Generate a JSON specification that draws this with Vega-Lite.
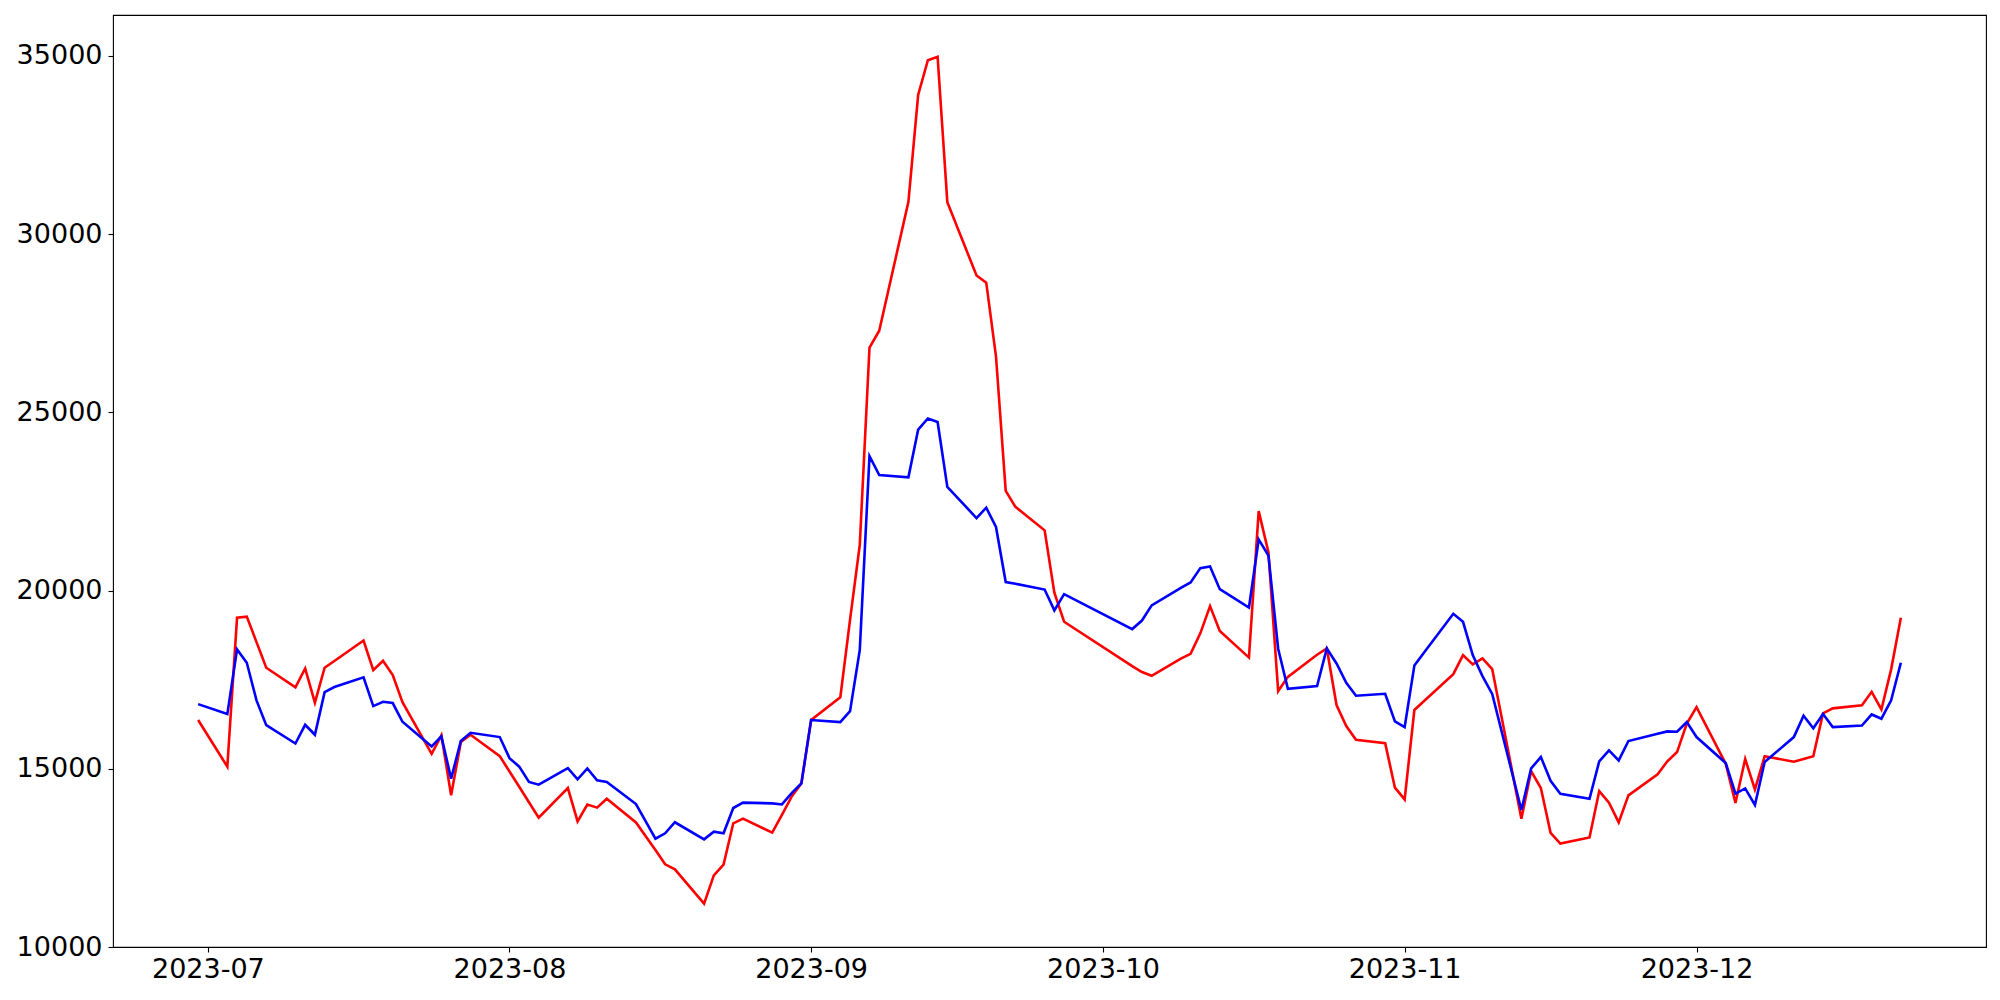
{
  "$schema": "https://vega.github.io/schema/vega-lite/v6.json",
  "width": 1873,
  "height": 932,
  "autosize": {"type": "none"},
  "padding": {"left": 113, "top": 15, "right": 14, "bottom": 53},
  "background": "#ffffff",
  "config": {
    "view": {"stroke": "#000000", "strokeWidth": 1.1},
    "font": "DejaVu Sans",
    "axis": {
      "grid": false,
      "domain": false,
      "ticks": true,
      "tickColor": "#000000",
      "tickWidth": 1.1,
      "tickSize": 5,
      "labelFont": "DejaVu Sans",
      "labelFontSize": 27,
      "labelColor": "#000000",
      "labelFlush": false,
      "labelOverlap": false,
      "title": null
    }
  },
  "datasets": {
    "series": [
      {"date": "2023-06-30", "s": "red", "v": 16370},
      {"date": "2023-07-03", "s": "red", "v": 15060},
      {"date": "2023-07-04", "s": "red", "v": 19240},
      {"date": "2023-07-05", "s": "red", "v": 19270},
      {"date": "2023-07-06", "s": "red", "v": 18555},
      {"date": "2023-07-07", "s": "red", "v": 17835},
      {"date": "2023-07-10", "s": "red", "v": 17285},
      {"date": "2023-07-11", "s": "red", "v": 17815},
      {"date": "2023-07-12", "s": "red", "v": 16855},
      {"date": "2023-07-13", "s": "red", "v": 17835},
      {"date": "2023-07-14", "s": "red", "v": 18025},
      {"date": "2023-07-17", "s": "red", "v": 18600},
      {"date": "2023-07-18", "s": "red", "v": 17770},
      {"date": "2023-07-19", "s": "red", "v": 18030},
      {"date": "2023-07-20", "s": "red", "v": 17630},
      {"date": "2023-07-21", "s": "red", "v": 16870},
      {"date": "2023-07-24", "s": "red", "v": 15420},
      {"date": "2023-07-25", "s": "red", "v": 15940},
      {"date": "2023-07-26", "s": "red", "v": 14255},
      {"date": "2023-07-27", "s": "red", "v": 15750},
      {"date": "2023-07-28", "s": "red", "v": 15955},
      {"date": "2023-07-31", "s": "red", "v": 15355},
      {"date": "2023-08-01", "s": "red", "v": 14925},
      {"date": "2023-08-02", "s": "red", "v": 14495},
      {"date": "2023-08-03", "s": "red", "v": 14060},
      {"date": "2023-08-04", "s": "red", "v": 13630},
      {"date": "2023-08-07", "s": "red", "v": 14460},
      {"date": "2023-08-08", "s": "red", "v": 13525},
      {"date": "2023-08-09", "s": "red", "v": 13995},
      {"date": "2023-08-10", "s": "red", "v": 13910},
      {"date": "2023-08-11", "s": "red", "v": 14160},
      {"date": "2023-08-14", "s": "red", "v": 13495},
      {"date": "2023-08-15", "s": "red", "v": 13105},
      {"date": "2023-08-16", "s": "red", "v": 12720},
      {"date": "2023-08-17", "s": "red", "v": 12320},
      {"date": "2023-08-18", "s": "red", "v": 12180},
      {"date": "2023-08-21", "s": "red", "v": 11215},
      {"date": "2023-08-22", "s": "red", "v": 12010},
      {"date": "2023-08-23", "s": "red", "v": 12310},
      {"date": "2023-08-24", "s": "red", "v": 13470},
      {"date": "2023-08-25", "s": "red", "v": 13600},
      {"date": "2023-08-28", "s": "red", "v": 13210},
      {"date": "2023-08-29", "s": "red", "v": 13705},
      {"date": "2023-08-30", "s": "red", "v": 14220},
      {"date": "2023-08-31", "s": "red", "v": 14590},
      {"date": "2023-09-01", "s": "red", "v": 16368},
      {"date": "2023-09-04", "s": "red", "v": 17005},
      {"date": "2023-09-05", "s": "red", "v": 19180},
      {"date": "2023-09-06", "s": "red", "v": 21280},
      {"date": "2023-09-07", "s": "red", "v": 26820},
      {"date": "2023-09-08", "s": "red", "v": 27290},
      {"date": "2023-09-11", "s": "red", "v": 30910},
      {"date": "2023-09-12", "s": "red", "v": 33905},
      {"date": "2023-09-13", "s": "red", "v": 34880},
      {"date": "2023-09-14", "s": "red", "v": 34980},
      {"date": "2023-09-15", "s": "red", "v": 30900},
      {"date": "2023-09-18", "s": "red", "v": 28840},
      {"date": "2023-09-19", "s": "red", "v": 28640},
      {"date": "2023-09-20", "s": "red", "v": 26575},
      {"date": "2023-09-21", "s": "red", "v": 22800},
      {"date": "2023-09-22", "s": "red", "v": 22350},
      {"date": "2023-09-25", "s": "red", "v": 21690},
      {"date": "2023-09-26", "s": "red", "v": 19940},
      {"date": "2023-09-27", "s": "red", "v": 19125},
      {"date": "2023-10-04", "s": "red", "v": 17880},
      {"date": "2023-10-05", "s": "red", "v": 17715},
      {"date": "2023-10-06", "s": "red", "v": 17610},
      {"date": "2023-10-09", "s": "red", "v": 18090},
      {"date": "2023-10-10", "s": "red", "v": 18225},
      {"date": "2023-10-11", "s": "red", "v": 18800},
      {"date": "2023-10-12", "s": "red", "v": 19565},
      {"date": "2023-10-13", "s": "red", "v": 18865},
      {"date": "2023-10-16", "s": "red", "v": 18120},
      {"date": "2023-10-17", "s": "red", "v": 22230},
      {"date": "2023-10-18", "s": "red", "v": 21080},
      {"date": "2023-10-19", "s": "red", "v": 17180},
      {"date": "2023-10-20", "s": "red", "v": 17580},
      {"date": "2023-10-23", "s": "red", "v": 18200},
      {"date": "2023-10-24", "s": "red", "v": 18375},
      {"date": "2023-10-25", "s": "red", "v": 16790},
      {"date": "2023-10-26", "s": "red", "v": 16200},
      {"date": "2023-10-27", "s": "red", "v": 15815},
      {"date": "2023-10-30", "s": "red", "v": 15720},
      {"date": "2023-10-31", "s": "red", "v": 14470},
      {"date": "2023-11-01", "s": "red", "v": 14140},
      {"date": "2023-11-02", "s": "red", "v": 16650},
      {"date": "2023-11-03", "s": "red", "v": 16900},
      {"date": "2023-11-06", "s": "red", "v": 17655},
      {"date": "2023-11-07", "s": "red", "v": 18190},
      {"date": "2023-11-08", "s": "red", "v": 17930},
      {"date": "2023-11-09", "s": "red", "v": 18095},
      {"date": "2023-11-10", "s": "red", "v": 17800},
      {"date": "2023-11-13", "s": "red", "v": 13600},
      {"date": "2023-11-14", "s": "red", "v": 14935},
      {"date": "2023-11-15", "s": "red", "v": 14460},
      {"date": "2023-11-16", "s": "red", "v": 13205},
      {"date": "2023-11-17", "s": "red", "v": 12900},
      {"date": "2023-11-20", "s": "red", "v": 13075},
      {"date": "2023-11-21", "s": "red", "v": 14375},
      {"date": "2023-11-22", "s": "red", "v": 14050},
      {"date": "2023-11-23", "s": "red", "v": 13495},
      {"date": "2023-11-24", "s": "red", "v": 14255},
      {"date": "2023-11-27", "s": "red", "v": 14845},
      {"date": "2023-11-28", "s": "red", "v": 15210},
      {"date": "2023-11-29", "s": "red", "v": 15470},
      {"date": "2023-11-30", "s": "red", "v": 16270},
      {"date": "2023-12-01", "s": "red", "v": 16730},
      {"date": "2023-12-04", "s": "red", "v": 15140},
      {"date": "2023-12-05", "s": "red", "v": 14040},
      {"date": "2023-12-06", "s": "red", "v": 15275},
      {"date": "2023-12-07", "s": "red", "v": 14420},
      {"date": "2023-12-08", "s": "red", "v": 15350},
      {"date": "2023-12-11", "s": "red", "v": 15200},
      {"date": "2023-12-12", "s": "red", "v": 15275},
      {"date": "2023-12-13", "s": "red", "v": 15350},
      {"date": "2023-12-14", "s": "red", "v": 16555},
      {"date": "2023-12-15", "s": "red", "v": 16695},
      {"date": "2023-12-18", "s": "red", "v": 16780},
      {"date": "2023-12-19", "s": "red", "v": 17160},
      {"date": "2023-12-20", "s": "red", "v": 16665},
      {"date": "2023-12-21", "s": "red", "v": 17790},
      {"date": "2023-12-22", "s": "red", "v": 19235},
      {"date": "2023-06-30", "s": "blue", "v": 16815},
      {"date": "2023-07-03", "s": "blue", "v": 16535},
      {"date": "2023-07-04", "s": "blue", "v": 18350},
      {"date": "2023-07-05", "s": "blue", "v": 17975},
      {"date": "2023-07-06", "s": "blue", "v": 16920},
      {"date": "2023-07-07", "s": "blue", "v": 16225},
      {"date": "2023-07-10", "s": "blue", "v": 15710},
      {"date": "2023-07-11", "s": "blue", "v": 16235},
      {"date": "2023-07-12", "s": "blue", "v": 15955},
      {"date": "2023-07-13", "s": "blue", "v": 17150},
      {"date": "2023-07-14", "s": "blue", "v": 17295},
      {"date": "2023-07-17", "s": "blue", "v": 17565},
      {"date": "2023-07-18", "s": "blue", "v": 16760},
      {"date": "2023-07-19", "s": "blue", "v": 16880},
      {"date": "2023-07-20", "s": "blue", "v": 16845},
      {"date": "2023-07-21", "s": "blue", "v": 16320},
      {"date": "2023-07-24", "s": "blue", "v": 15625},
      {"date": "2023-07-25", "s": "blue", "v": 15910},
      {"date": "2023-07-26", "s": "blue", "v": 14725},
      {"date": "2023-07-27", "s": "blue", "v": 15780},
      {"date": "2023-07-28", "s": "blue", "v": 16010},
      {"date": "2023-07-31", "s": "blue", "v": 15890},
      {"date": "2023-08-01", "s": "blue", "v": 15300},
      {"date": "2023-08-02", "s": "blue", "v": 15060},
      {"date": "2023-08-03", "s": "blue", "v": 14630},
      {"date": "2023-08-04", "s": "blue", "v": 14555},
      {"date": "2023-08-07", "s": "blue", "v": 15020},
      {"date": "2023-08-08", "s": "blue", "v": 14705},
      {"date": "2023-08-09", "s": "blue", "v": 15010},
      {"date": "2023-08-10", "s": "blue", "v": 14675},
      {"date": "2023-08-11", "s": "blue", "v": 14630},
      {"date": "2023-08-14", "s": "blue", "v": 14010},
      {"date": "2023-08-15", "s": "blue", "v": 13525},
      {"date": "2023-08-16", "s": "blue", "v": 13040},
      {"date": "2023-08-17", "s": "blue", "v": 13190},
      {"date": "2023-08-18", "s": "blue", "v": 13500},
      {"date": "2023-08-21", "s": "blue", "v": 13020},
      {"date": "2023-08-22", "s": "blue", "v": 13235},
      {"date": "2023-08-23", "s": "blue", "v": 13190},
      {"date": "2023-08-24", "s": "blue", "v": 13900},
      {"date": "2023-08-25", "s": "blue", "v": 14050},
      {"date": "2023-08-28", "s": "blue", "v": 14030},
      {"date": "2023-08-29", "s": "blue", "v": 14000},
      {"date": "2023-08-30", "s": "blue", "v": 14320},
      {"date": "2023-08-31", "s": "blue", "v": 14590},
      {"date": "2023-09-01", "s": "blue", "v": 16368},
      {"date": "2023-09-04", "s": "blue", "v": 16310},
      {"date": "2023-09-05", "s": "blue", "v": 16615},
      {"date": "2023-09-06", "s": "blue", "v": 18330},
      {"date": "2023-09-07", "s": "blue", "v": 23770},
      {"date": "2023-09-08", "s": "blue", "v": 23240},
      {"date": "2023-09-11", "s": "blue", "v": 23180},
      {"date": "2023-09-12", "s": "blue", "v": 24515},
      {"date": "2023-09-13", "s": "blue", "v": 24830},
      {"date": "2023-09-14", "s": "blue", "v": 24730},
      {"date": "2023-09-15", "s": "blue", "v": 22910},
      {"date": "2023-09-18", "s": "blue", "v": 22035},
      {"date": "2023-09-19", "s": "blue", "v": 22325},
      {"date": "2023-09-20", "s": "blue", "v": 21785},
      {"date": "2023-09-21", "s": "blue", "v": 20240},
      {"date": "2023-09-22", "s": "blue", "v": 20190},
      {"date": "2023-09-25", "s": "blue", "v": 20030},
      {"date": "2023-09-26", "s": "blue", "v": 19445},
      {"date": "2023-09-27", "s": "blue", "v": 19900},
      {"date": "2023-10-04", "s": "blue", "v": 18920},
      {"date": "2023-10-05", "s": "blue", "v": 19160},
      {"date": "2023-10-06", "s": "blue", "v": 19585},
      {"date": "2023-10-09", "s": "blue", "v": 20075},
      {"date": "2023-10-10", "s": "blue", "v": 20230},
      {"date": "2023-10-11", "s": "blue", "v": 20630},
      {"date": "2023-10-12", "s": "blue", "v": 20675},
      {"date": "2023-10-13", "s": "blue", "v": 20040},
      {"date": "2023-10-16", "s": "blue", "v": 19525},
      {"date": "2023-10-17", "s": "blue", "v": 21435},
      {"date": "2023-10-18", "s": "blue", "v": 20985},
      {"date": "2023-10-19", "s": "blue", "v": 18370},
      {"date": "2023-10-20", "s": "blue", "v": 17245},
      {"date": "2023-10-23", "s": "blue", "v": 17320},
      {"date": "2023-10-24", "s": "blue", "v": 18375},
      {"date": "2023-10-25", "s": "blue", "v": 17955},
      {"date": "2023-10-26", "s": "blue", "v": 17415},
      {"date": "2023-10-27", "s": "blue", "v": 17050},
      {"date": "2023-10-30", "s": "blue", "v": 17105},
      {"date": "2023-10-31", "s": "blue", "v": 16330},
      {"date": "2023-11-01", "s": "blue", "v": 16170},
      {"date": "2023-11-02", "s": "blue", "v": 17900},
      {"date": "2023-11-03", "s": "blue", "v": 18265},
      {"date": "2023-11-06", "s": "blue", "v": 19350},
      {"date": "2023-11-07", "s": "blue", "v": 19125},
      {"date": "2023-11-08", "s": "blue", "v": 18190},
      {"date": "2023-11-09", "s": "blue", "v": 17600},
      {"date": "2023-11-10", "s": "blue", "v": 17100},
      {"date": "2023-11-13", "s": "blue", "v": 13845},
      {"date": "2023-11-14", "s": "blue", "v": 15010},
      {"date": "2023-11-15", "s": "blue", "v": 15330},
      {"date": "2023-11-16", "s": "blue", "v": 14665},
      {"date": "2023-11-17", "s": "blue", "v": 14300},
      {"date": "2023-11-20", "s": "blue", "v": 14160},
      {"date": "2023-11-21", "s": "blue", "v": 15210},
      {"date": "2023-11-22", "s": "blue", "v": 15515},
      {"date": "2023-11-23", "s": "blue", "v": 15235},
      {"date": "2023-11-24", "s": "blue", "v": 15780},
      {"date": "2023-11-27", "s": "blue", "v": 15985},
      {"date": "2023-11-28", "s": "blue", "v": 16050},
      {"date": "2023-11-29", "s": "blue", "v": 16040},
      {"date": "2023-11-30", "s": "blue", "v": 16310},
      {"date": "2023-12-01", "s": "blue", "v": 15890},
      {"date": "2023-12-04", "s": "blue", "v": 15160},
      {"date": "2023-12-05", "s": "blue", "v": 14305},
      {"date": "2023-12-06", "s": "blue", "v": 14450},
      {"date": "2023-12-07", "s": "blue", "v": 13985},
      {"date": "2023-12-08", "s": "blue", "v": 15190},
      {"date": "2023-12-11", "s": "blue", "v": 15890},
      {"date": "2023-12-12", "s": "blue", "v": 16490},
      {"date": "2023-12-13", "s": "blue", "v": 16135},
      {"date": "2023-12-14", "s": "blue", "v": 16535},
      {"date": "2023-12-15", "s": "blue", "v": 16170},
      {"date": "2023-12-18", "s": "blue", "v": 16215},
      {"date": "2023-12-19", "s": "blue", "v": 16525},
      {"date": "2023-12-20", "s": "blue", "v": 16405},
      {"date": "2023-12-21", "s": "blue", "v": 16920},
      {"date": "2023-12-22", "s": "blue", "v": 17975}
    ]
  },
  "data": {"name": "series"},
  "encoding": {
    "x": {
      "field": "date",
      "type": "temporal",
      "scale": {
        "type": "utc",
        "domain": [
          {"year": 2023, "month": 6, "date": 21, "hours": 6, "utc": true},
          {"year": 2023, "month": 12, "date": 30, "hours": 18, "utc": true}
        ]
      },
      "axis": {
        "format": "%Y-%m",
        "labelPadding": 4,
        "values": [
          {"year": 2023, "month": 7, "date": 1, "utc": true},
          {"year": 2023, "month": 8, "date": 1, "utc": true},
          {"year": 2023, "month": 9, "date": 1, "utc": true},
          {"year": 2023, "month": 10, "date": 1, "utc": true},
          {"year": 2023, "month": 11, "date": 1, "utc": true},
          {"year": 2023, "month": 12, "date": 1, "utc": true}
        ]
      }
    },
    "y": {
      "field": "v",
      "type": "quantitative",
      "scale": {"domain": [10000, 36150], "nice": false, "zero": false},
      "axis": {
        "values": [10000, 15000, 20000, 25000, 30000, 35000],
        "format": "d",
        "labelPadding": 6
      }
    }
  },
  "layer": [
    {
      "transform": [{"filter": "datum.s === 'red'"}],
      "mark": {"type": "line", "color": "#ff0000", "strokeWidth": 2.6}
    },
    {
      "transform": [{"filter": "datum.s === 'blue'"}],
      "mark": {"type": "line", "color": "#0000ff", "strokeWidth": 2.6}
    }
  ]
}
